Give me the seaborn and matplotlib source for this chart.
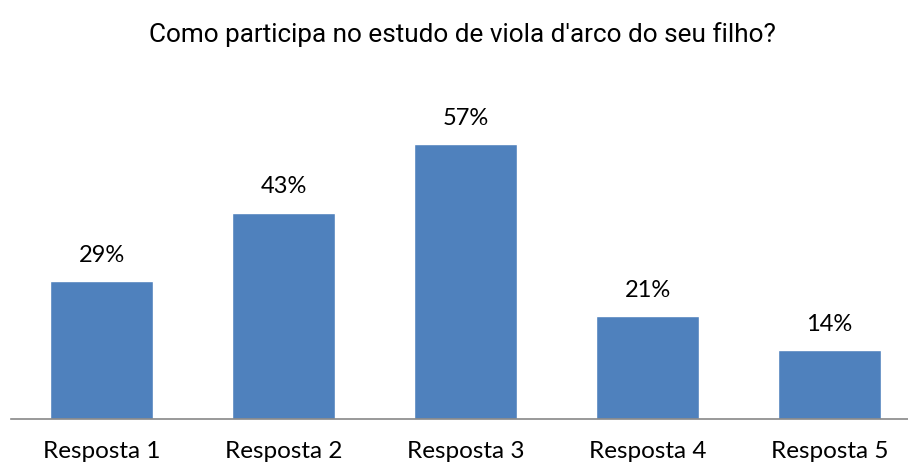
import matplotlib
matplotlib.use('Agg')
import matplotlib.pyplot as plt
import seaborn as sns
import pandas as pd

# Data (percent of respondents).
categories = ['Resposta 1', 'Resposta 2', 'Resposta 3', 'Resposta 4', 'Resposta 5']
values = [28.57, 42.86, 57.14, 21.43, 14.29]
value_labels = ['29%', '43%', '57%', '21%', '14%']
title = "Como participa no estudo de viola d'arco do seu filho?"

df = pd.DataFrame({'categoria': categories, 'pct': values})

sns.set_theme(style='white')
plt.rcParams['font.family'] = ['Lato', 'DejaVu Sans']

fig = plt.figure(figsize=(9.08, 4.65), dpi=100)
ax = fig.add_axes([10.5 / 908, 46 / 465, 910 / 908, 289 / 465])

sns.barplot(data=df, x='categoria', y='pct', color='#4F81BD', saturation=1,
            width=0.566, ax=ax)
ax.set_ylim(0, 60)
ax.set_xlim(-0.5, 4.5)

for i, (v, lab) in enumerate(zip(values, value_labels)):
    ax.annotate(lab, (i, v), xytext=(0, 18.5), textcoords='offset points',
                ha='center', va='center', fontsize=17, color='#000000')

ax.set_xlabel('')
ax.set_ylabel('')
ax.set_yticks([])
ax.tick_params(axis='x', length=0, pad=15.5, labelsize=17.5, labelcolor='#000000')
for side in ['top', 'right', 'left']:
    ax.spines[side].set_visible(False)
ax.spines['bottom'].set_color('#888888')
ax.spines['bottom'].set_linewidth(1.2)

fig.text(462 / 908, 1 - 35 / 465, title, ha='center', va='center',
         fontsize=18.8, family=['Roboto', 'DejaVu Sans'],
         color='#000000')

fig.savefig('out.png', dpi=100)
